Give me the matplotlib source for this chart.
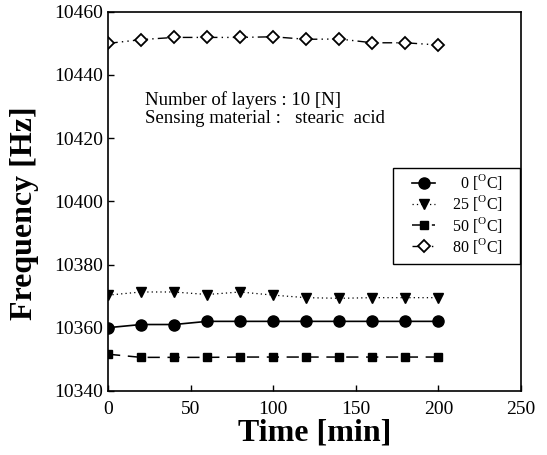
import matplotlib
matplotlib.use("Agg")
import matplotlib.pyplot as plt
from matplotlib.patches import Rectangle

plt.rcParams['font.family'] = ['Liberation Serif', 'DejaVu Serif']
plt.rcParams['mathtext.fontset'] = 'custom'
plt.rcParams['mathtext.rm'] = 'Liberation Serif'

time_min = [0, 20, 40, 60, 80, 100, 120, 140, 160, 180, 200]
freq_0C = [10360, 10361, 10361, 10362, 10362, 10362, 10362, 10362, 10362, 10362, 10362]
freq_25C = [10370.3, 10371.3, 10371.3, 10370.5, 10371.3, 10370.3, 10369.5, 10369.3, 10369.5, 10369.5, 10369.5]
freq_50C = [10351.6, 10350.6, 10350.6, 10350.6, 10350.7, 10350.7, 10350.7, 10350.7, 10350.7, 10350.7, 10350.7]
freq_80C = [10450, 10451.2, 10451.9, 10451.9, 10451.9, 10452.1, 10451.3, 10451.4, 10450.2, 10450.2, 10449.5]
labels = ['  0 [$^{\\mathrm{O}}$C]', '25 [$^{\\mathrm{O}}$C]', '50 [$^{\\mathrm{O}}$C]', '80 [$^{\\mathrm{O}}$C]']
x_ticks = [0, 50, 100, 150, 200, 250]
y_ticks = [10340, 10360, 10380, 10400, 10420, 10440, 10460]

fig = plt.figure(figsize=(5.47, 4.55), dpi=100)
ax = fig.add_axes([0.1975, 0.141, 0.755, 0.833])

ax.plot(time_min, freq_0C, color='black', lw=1.2, linestyle='-', marker='o', ms=8, label=labels[0])
ax.plot(time_min, freq_25C, color='black', lw=0.9, linestyle=(0, (1, 2.5)), marker='v', ms=7.5, label=labels[1])
ax.plot(time_min, freq_50C, color='black', lw=1.1, linestyle=(0, (8, 5)), marker='s', ms=6, label=labels[2])
ax.plot(time_min, freq_80C, color='black', lw=1.0, linestyle=(0, (7, 3, 1, 3, 1, 3)), marker='D', ms=6.5,
        markerfacecolor='white', markeredgewidth=1.3, label=labels[3])

ax.set_xlim(0, 250)
ax.set_ylim(10340, 10460)
ax.set_xticks(x_ticks)
ax.set_yticks(y_ticks)
ax.tick_params(direction='in', labelsize=14, length=4, width=1)
ax.tick_params(axis='x', pad=7)

for s in ax.spines.values():
    s.set_linewidth(1.2)

ax.set_xlabel('Time [min]', fontsize=23, fontweight='bold', labelpad=1)
ax.set_ylabel('Frequency [Hz]', fontsize=23, fontweight='bold')
ax.yaxis.set_label_coords(-0.167, 0.47)

ax.text(22.5, 10432.2, 'Number of layers : 10 [N]', fontsize=13.5, va='center', ha='left')
ax.text(22.5, 10426.3, 'Sensing material :   stearic  acid', fontsize=13.5, va='center', ha='left')

# legend box
ax.add_patch(Rectangle((0.690, 0.335), 0.308, 0.253, transform=ax.transAxes, fill=False,
                       edgecolor='black', lw=1.0, zorder=4, clip_on=False))
leg = ax.legend(loc='upper left', bbox_to_anchor=(0.736, 0.577), fontsize=11.5, frameon=False,
                handlelength=1.45, handletextpad=1.06, labelspacing=0.08, borderpad=0,
                borderaxespad=0)

fig.savefig('out.png', dpi=100)
